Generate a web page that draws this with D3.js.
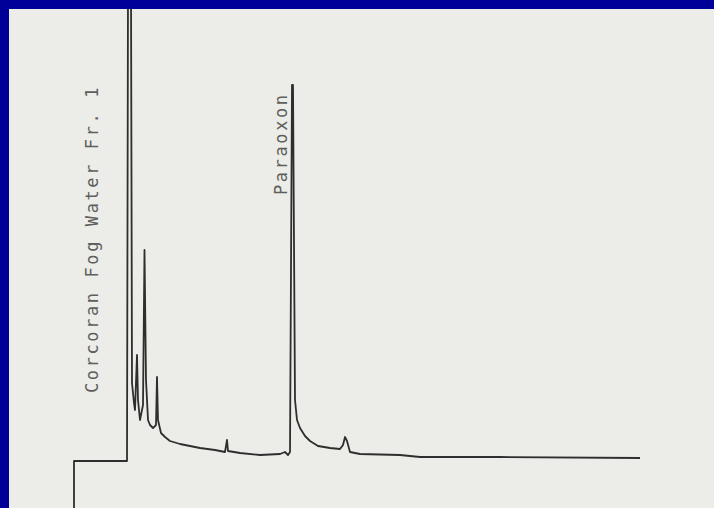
<!DOCTYPE html>
<html>
<head>
<meta charset="utf-8">
<script src="https://cdn.jsdelivr.net/npm/d3@7"></script>
<style>
  html, body { margin: 0; padding: 0; background: #000099; }
  svg { display: block; }
</style>
</head>
<body>
<svg id="chart" width="714" height="508"></svg>
<script>
// chromatogram trace (time in chart units, detector response, baseline = 0)
const traceTime = [
    2, 2, 55, 56, 59, 60, 62, 63, 65, 66, 68, 71, 72.5, 74, 76, 78, 81,
    84, 85, 86, 89, 93, 98, 108, 128, 143, 153, 155, 156, 168, 188, 208,
    213, 216, 218, 220, 221, 223, 225, 228, 233, 238, 246, 258, 268, 271,
    273, 275, 278, 288, 328, 348, 428, 568
];
const traceSignal = [
    -52, -3, -3, 470, 470, 75, 55, 48, 103, 58, 38, 53, 208, 78, 38, 33, 30,
    33, 81, 38, 25, 21, 17, 14, 10, 8, 6, 18, 7, 5, 3, 4,
    6, 3, 6, 373, 373, 58, 38, 30, 22, 17, 12, 10, 9, 13,
    21, 17, 6, 4, 3, 1, 1, 0
];

// typed annotations on the chart paper
const peakLabels = [
    { text: "Corcoran Fog Water Fr. 1", time: 26, signal: 65 },
    { text: "Paraoxon",                 time: 214.5, signal: 263 }
];

const svg = d3.select("#chart");
const width = 714, height = 508;
const border = 9;

// paper inside the blue slide frame
svg.append("rect")
    .attr("x", border)
    .attr("y", border)
    .attr("width", width - border)
    .attr("height", height - border)
    .attr("fill", "#ecece8");

// scales: 1 unit = 1px, baseline sits at y=458
const x = d3.scaleLinear().domain([0, 580]).range([72, 652]);
const y = d3.scaleLinear().domain([-50, 449]).range([508, 9]);

const g = svg.append("g");

const clip = svg.append("defs").append("clipPath").attr("id", "paper");
clip.append("rect")
    .attr("x", border).attr("y", border)
    .attr("width", width - border).attr("height", height - border);

const points = traceTime.map((t, i) => [t, traceSignal[i]]);

const line = d3.line()
    .x(d => x(d[0]))
    .y(d => y(d[1]));

g.append("path")
    .datum(points)
    .attr("clip-path", "url(#paper)")
    .attr("fill", "none")
    .attr("stroke", "#2e2e2e")
    .attr("stroke-width", 1.8)
    .attr("stroke-linejoin", "round")
    .attr("d", line);

// rotated labels, reading bottom to top
g.selectAll("text.peak")
    .data(peakLabels)
    .join("text")
    .attr("class", "peak")
    .attr("transform", d => `translate(${x(d.time)}, ${y(d.signal)}) rotate(-90)`)
    .attr("font-family", "'DejaVu Sans Mono', 'Liberation Mono', monospace")
    .attr("font-size", "17px")
    .attr("letter-spacing", "2.6px")
    .attr("fill", "#5e5e5c")
    .text(d => d.text);
</script>
</body>
</html>
